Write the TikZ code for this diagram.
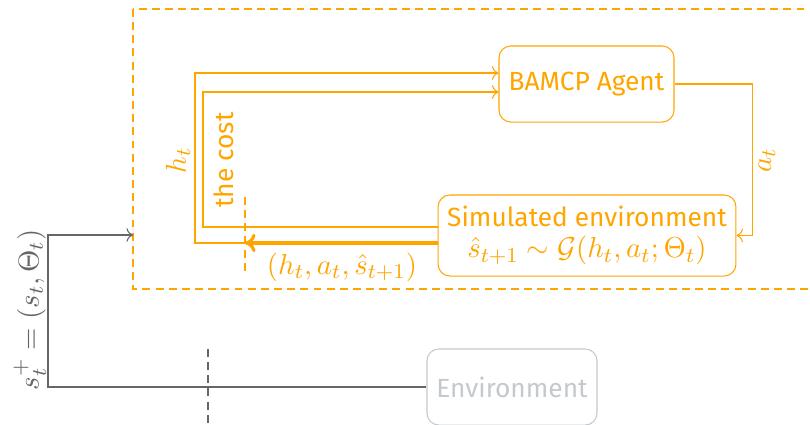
\documentclass[tikz,border=0pt]{standalone}
\usepackage[no-math]{fontspec}
\setmainfont{Fira Sans}
\usepackage{amsmath,amssymb}
\usepackage{xcolor}
\usetikzlibrary{arrows.meta,positioning,calc}
\definecolor{simorange}{HTML}{FFA500}
\definecolor{envgray}{HTML}{C3C9CE}
\definecolor{realgray}{HTML}{666666}
\newcommand{\mathsz}{\fontsize{11}{13}\selectfont}

\begin{document}
\begin{tikzpicture}[
x=0.38pt, y=-0.38pt,
simbox/.style={draw=simorange, text=simorange, rounded corners=4.5pt, align=center, inner sep=1pt},
envbox/.style={draw=envgray, text=envgray, rounded corners=4.5pt, align=center},
simline/.style={->, simorange, thin},
realline/.style={->, realgray, thin},
lbl/.style={text=simorange, inner sep=1pt}
]
\useasboundingbox (0,0) rectangle (810,424);
\clip (0,0) rectangle (810,424);

% simulation frame
\draw[simorange, thin, dash pattern=on 3pt off 2pt] (133,9) rectangle (840,289);
\coordinate (framein) at (133,235);

\node[simbox, minimum width=66.5pt, minimum height=28.9pt] (agent) at (586.5,84) {BAMCP Agent};
\node[simbox, minimum width=113.2pt, minimum height=30.8pt] (sim) at (587,235.5)
  {Simulated environment\\[0pt] \mathsz $\hat{s}_{t+1} \sim \mathcal{G}(h_t, a_t; \Theta_t)$};
\node[envbox, minimum width=64.6pt, minimum height=28.9pt] (env) at (512,387) {Environment};

% loop inside the simulation
\draw[simline] (agent.east) -- ++(78,0) |- (sim.east);
\draw[simline] ($(sim.west)+(0,7.5)$) -| (195,73) -- ($(agent.west)+(0,-11)$);
\draw[simline] ($(sim.west)+(0,-8.5)$) -| (203,92) -- ($(agent.west)+(0,8)$);
\coordinate (cut) at (245,243);
\draw[simorange, very thick, -{To[length=4pt,width=7pt]}] ($(sim.west)+(0,7.5)$) -- (cut);
\draw[simorange, thin, dash pattern=on 3pt off 2pt] (245,197) -- (245,272);

\node[lbl, rotate=90] (at) at (767,160) {\mathsz $a_t$};
\node[lbl, rotate=90] (ht) at (178,160) {\mathsz $h_t$};
\node[lbl, rotate=90] (cost) at (224,160) {the cost};
\node[lbl] (tuple) at (342,267) {\mathsz $(h_t, a_t, \hat{s}_{t+1})$};

% real environment
\draw[realline] (env.west) -| (48,235) -- (framein);
\draw[realgray, thin, dash pattern=on 3pt off 2pt] (208,349) -- (208,424);
\node[text=realgray, rotate=90, inner sep=1pt] (splus) at (30,310) {\mathsz $s_t^+ = (s_t, \Theta_t)$};
\end{tikzpicture}
\end{document}
